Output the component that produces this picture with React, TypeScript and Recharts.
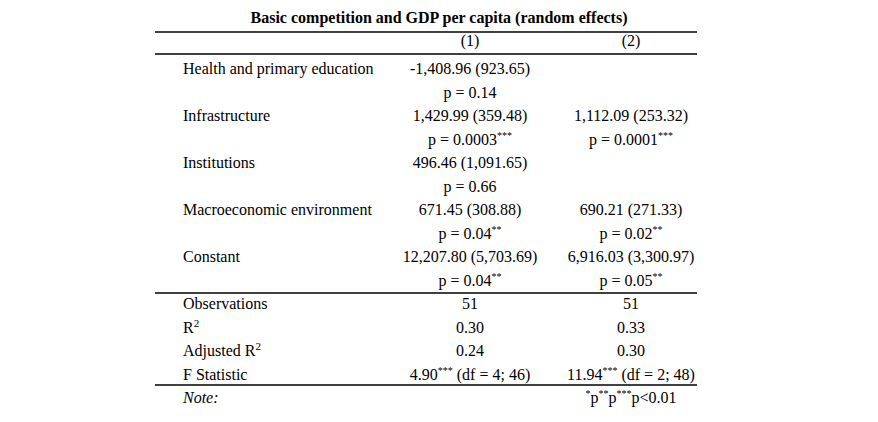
import { ScatterChart, Scatter, XAxis, YAxis, ReferenceLine } from "recharts";

const title = "Basic competition and GDP per capita (random effects)";
const modelHeaders = ["(1)", "(2)"];

const terms = [
  "Health and primary education",
  "Infrastructure",
  "Institutions",
  "Macroeconomic environment",
  "Constant"
];

const coef1 = [-1408.96, 1429.99, 496.46, 671.45, 12207.8];
const se1 = [923.65, 359.48, 1091.65, 308.88, 5703.69];
const p1 = ["0.14", "0.0003", "0.66", "0.04", "0.04"];
const stars1 = ["", "***", "", "**", "**"];

const coef2 = [null, 1112.09, null, 690.21, 6916.03];
const se2 = [null, 253.32, null, 271.33, 3300.97];
const p2 = [null, "0.0001", null, "0.02", "0.05"];
const stars2 = ["", "***", "", "**", "**"];

const statLabels = ["Observations", "R^2", "Adjusted R^2", "F Statistic"];
const observations = ["51", "51"];
const r2 = ["0.30", "0.33"];
const adjR2 = ["0.24", "0.30"];
const fStat = ["4.90", "11.94"];
const fStars = ["***", "***"];
const fDf = ["4; 46", "2; 48"];
const noteText = "*p**p***p<0.01";

const FONT = "'Liberation Serif', 'Times New Roman', serif";
const LABEL_X = 183;
const ROW_STEP = 23.5;
const FIRST_BASELINE = 74;
const HEADER_ROW = -1.2;

const fmt = (v: number) =>
  v.toLocaleString("en-US", { minimumFractionDigits: 2, maximumFractionDigits: 2 });

// row labels (term rows are followed by a blank p-value row)
const rowLabels: string[] = [
  ...terms.flatMap((t) => [t, ""]),
  ...statLabels,
  "Note:"
];
const rowIndex = rowLabels.map((_, i) => i);

function buildColumn(
  col: number,
  coef: (number | null)[],
  se: (number | null)[],
  p: (string | null)[],
  stars: string[]
) {
  const cells: { x: number; y: number; text: string }[] = [];
  cells.push({ x: col + 1, y: HEADER_ROW, text: modelHeaders[col] });
  terms.forEach((_, k) => {
    const c = coef[k];
    const s = se[k];
    if (c !== null && s !== null) {
      cells.push({ x: col + 1, y: 2 * k, text: `${fmt(c)} (${fmt(s)})` });
      cells.push({ x: col + 1, y: 2 * k + 1, text: `p = ${p[k]}${stars[k]}` });
    }
  });
  const base = terms.length * 2;
  cells.push({ x: col + 1, y: base, text: observations[col] });
  cells.push({ x: col + 1, y: base + 1, text: r2[col] });
  cells.push({ x: col + 1, y: base + 2, text: adjR2[col] });
  cells.push({ x: col + 1, y: base + 3, text: `${fStat[col]}${fStars[col]} (df = ${fDf[col]})` });
  if (col === 1) cells.push({ x: col + 1, y: base + 4, text: noteText });
  return cells;
}

const col1 = buildColumn(0, coef1, se1, p1, stars1);
const col2 = buildColumn(1, coef2, se2, p2, stars2);

function rich(str: string) {
  const parts = str.split(/(\*+|\^\S)/).filter((s) => s.length > 0);
  let raised = false;
  return parts.map((part, i) => {
    const sup = part.startsWith("*") || part.startsWith("^");
    const content = part.startsWith("^") ? part.slice(1) : part;
    let dy: number | undefined;
    if (sup && !raised) {
      dy = -6;
      raised = true;
    } else if (!sup && raised) {
      dy = 6;
      raised = false;
    }
    return (
      <tspan key={i} dy={dy} fontSize={sup ? (part.startsWith("^") ? 11 : 10) : undefined}>
        {content}
      </tspan>
    );
  });
}

const CellText = (props: any) => {
  const { cx, cy, payload } = props;
  return (
    <text x={cx} y={cy} textAnchor="middle" fontFamily={FONT} fontSize={16} fill="#000">
      {rich(payload.text)}
    </text>
  );
};

const RowLabel = (props: any) => {
  const { y, payload } = props;
  const label = rowLabels[Math.round(payload.value)];
  if (!label) return null;
  return (
    <text
      x={LABEL_X}
      y={y}
      textAnchor="start"
      fontFamily={FONT}
      fontSize={16}
      fontStyle={label === "Note:" ? "italic" : "normal"}
      fill="#000"
    >
      {rich(label)}
    </text>
  );
};

// horizontal rules, in row units
const rules = [-1.787, -0.851, 9.32, 13.234];

export default function App() {
  const yTop = -FIRST_BASELINE / ROW_STEP;
  const yBottom = (422 - FIRST_BASELINE) / ROW_STEP;
  return (
    <div style={{ position: "absolute", left: 0, top: 0, width: 878, height: 422, background: "#fff" }}>
      <div
        style={{
          position: "absolute",
          left: 0,
          top: 9,
          width: 878,
          textAlign: "center",
          fontFamily: FONT,
          fontWeight: "bold",
          fontSize: 16,
          lineHeight: "18px",
          color: "#000"
        }}
      >
        {title}
      </div>
      <ScatterChart width={878} height={422} margin={{ top: 0, right: 181, bottom: 0, left: 0 }}>
        <XAxis type="number" dataKey="x" domain={[-0.9565, 2.41]} hide />
        <YAxis
          type="number"
          dataKey="y"
          reversed
          domain={[yTop, yBottom]}
          ticks={rowIndex}
          interval={0}
          width={155}
          axisLine={false}
          tickLine={false}
          tick={<RowLabel />}
        />
        {rules.map((r) => (
          <ReferenceLine key={r} y={r} stroke="#000" strokeWidth={1.4} />
        ))}
        <Scatter data={col1} shape={<CellText />} isAnimationActive={false} />
        <Scatter data={col2} shape={<CellText />} isAnimationActive={false} />
      </ScatterChart>
    </div>
  );
}
